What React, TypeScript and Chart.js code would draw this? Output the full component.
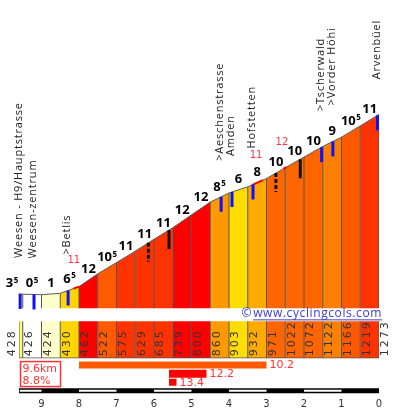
import { useEffect, useRef } from 'react';
import { Chart, registerables } from 'chart.js';

Chart.register(...registerables);

// ---- data read from the profile ----
const KM = [9.6, 9.5, 9.0, 8.5, 8.0, 7.5, 7.0, 6.5, 6.0, 5.5, 5.0, 4.5, 4.0, 3.5, 3.0, 2.5, 2.0, 1.5, 1.0, 0.5, 0];
const ELEVATION = [428, 426, 424, 430, 462, 522, 575, 629, 685, 739, 800, 860, 903, 932, 971, 1022, 1072, 1122, 1166, 1219, 1273];
const GRADE = [3.5, 0.5, 1, 6.5, 12, 10.5, 11, 11, 11, 12, 12, 8.5, 6, 8, 10, 10, 10, 9, 10.5, 11];

const PLACE_NAMES = ['Weesen - H9/Hauptstrasse', 'Weesen-zentrum', '>Betlis', '>Aeschenstrasse', 'Amden', 'Hofstetten', '>Tscherwald', '>Vorder Höhi', 'Arvenbüel'];
const PLACE_KM = [9.57, 9.2, 8.29, 4.21, 3.92, 3.36, 1.53, 1.23, 0.04];

const TUNNEL_KM = [6.15, 5.6, 2.75, 2.1];
const TUNNEL_DASHED = [true, false, true, false];

const STEEP_FROM = [8.15, 3.35, 2.55];
const STEEP_TO = [8.0, 3.1, 2.47];
const STEEP_MAX = [11, 11, 12];
const STEEP_LABEL_KM = [8.14, 3.28, 2.59];

const CLIMB_FROM = [8.0, 5.6, 5.6];
const CLIMB_TO = [3.0, 4.6, 5.4];
const CLIMB_AVG = [10.2, 12.2, 13.4];

const TOTAL_KM = 9.6;
const AVERAGE_GRADE = 8.8;

const SCALE_WHITE_FROM = [9.58, 8, 6, 4, 2];
const SCALE_WHITE_TO = [9, 7, 5, 3, 1];

const SITE = 'www.cyclingcols.com';

// ---- helpers ----
const FLOOR = 359;

function elevAt(km: number): number {
  for (let i = 0; i < KM.length - 1; i++) {
    const a = KM[i], b = KM[i + 1];
    if (km <= a && km >= b) {
      const t = (a - km) / (a - b);
      return ELEVATION[i] + t * (ELEVATION[i + 1] - ELEVATION[i]);
    }
  }
  return km > KM[0] ? ELEVATION[0] : ELEVATION[ELEVATION.length - 1];
}

function gradeColour(g: number): string {
  if (g < 0.8) return '#ffffff';
  if (g < 2) return '#ffffcc';
  if (g < 5) return '#ffff66';
  if (g < 6.3) return '#ffdd00';
  if (g < 7.5) return '#ffd500';
  if (g < 8.3) return '#ffaa00';
  if (g < 8.8) return '#ff9900';
  if (g < 9.5) return '#ff8000';
  if (g < 10.1) return '#ff6600';
  if (g < 10.8) return '#ff5a00';
  if (g < 11.5) return '#ff3300';
  return '#ff0000';
}

const GRADE_FONT = 'bold 13px "Noto Sans"';
const SUP_FONT = 'bold 8px "Noto Sans"';

function drawGrade(ctx: CanvasRenderingContext2D, g: number, cx: number, baseline: number) {
  const whole = String(Math.floor(g));
  const half = Math.abs(g - Math.floor(g)) > 0.01;
  ctx.font = GRADE_FONT;
  const w1 = ctx.measureText(whole).width;
  ctx.font = SUP_FONT;
  const w2 = half ? ctx.measureText('5').width + 0.5 : 0;
  const left = cx - (w1 + w2) / 2;
  ctx.textAlign = 'left';
  ctx.textBaseline = 'alphabetic';
  ctx.fillStyle = '#000';
  ctx.font = GRADE_FONT;
  ctx.fillText(whole, left, baseline);
  if (half) {
    ctx.font = SUP_FONT;
    ctx.fillText('5', left + w1 + 0.5, baseline - 4.5);
  }
}

function vText(ctx: CanvasRenderingContext2D, text: string, x: number, bottom: number) {
  ctx.save();
  ctx.translate(x, bottom);
  ctx.rotate(-Math.PI / 2);
  ctx.textAlign = 'left';
  ctx.textBaseline = 'middle';
  ctx.fillText(text, 0, 0);
  ctx.restore();
}

const annotations = {
  id: 'climbAnnotations',
  afterDatasetsDraw(chart: any) {
    const ctx: CanvasRenderingContext2D = chart.ctx;
    const xs = chart.scales.x;
    const ys = chart.scales.y;
    const yr = chart.scales.yRow;
    const yb = chart.scales.yBars;
    const X = (k: number) => xs.getPixelForValue(k);
    const Y = (e: number) => ys.getPixelForValue(e);
    ctx.save();

    // tunnels / galleries (black)
    TUNNEL_KM.forEach((k, i) => {
      const px = X(k), py = Y(elevAt(k));
      ctx.strokeStyle = '#111';
      ctx.lineWidth = 3;
      ctx.setLineDash(TUNNEL_DASHED[i] ? [4, 2] : []);
      ctx.beginPath();
      ctx.moveTo(px, py);
      ctx.lineTo(px, py + 19);
      ctx.stroke();
    });
    ctx.setLineDash([]);

    // place markers (blue)
    PLACE_KM.forEach((k) => {
      const px = X(k), py = Y(elevAt(k));
      ctx.strokeStyle = '#1010ff';
      ctx.lineWidth = 3;
      ctx.beginPath();
      ctx.moveTo(px, py);
      ctx.lineTo(px, py + 15);
      ctx.stroke();
    });

    // grade labels
    GRADE.forEach((g, i) => {
      const short = KM[i] - KM[i + 1] < 0.25;
      const cx = short ? X(KM[i]) - 7 : (X(KM[i]) + X(KM[i + 1])) / 2;
      const base = Y((ELEVATION[i] + ELEVATION[i + 1]) / 2) - 7;
      drawGrade(ctx, g, cx, base);
    });

    // steepest 100 m labels
    ctx.font = '10px "DejaVu Sans"';
    ctx.fillStyle = '#ff3344';
    ctx.textAlign = 'center';
    ctx.textBaseline = 'alphabetic';
    STEEP_MAX.forEach((m, i) => {
      const k = STEEP_LABEL_KM[i];
      ctx.fillText(String(m), X(k), Y(elevAt(k)) - 25);
    });

    // place names
    ctx.font = '11px "Open Sans"';
    (ctx as any).letterSpacing = '0.8px';
    ctx.fillStyle = '#222';
    PLACE_NAMES.forEach((name, i) => {
      const k = PLACE_KM[i];
      vText(ctx, name, X(k) - 1, Y(elevAt(k)) - 36);
    });

    // elevation row labels
    ctx.font = '11px "DejaVu Sans"';
    (ctx as any).letterSpacing = '2px';
    ctx.fillStyle = '#333';
    const rowBottom = yr.getPixelForValue(0) - 2;
    ELEVATION.forEach((e, i) => {
      const px = i === 0 ? X(KM[i]) - 7 : X(KM[i]) + 6.5;
      vText(ctx, String(e), px, rowBottom);
    });

    // site credit
    ctx.font = '12px "Open Sans"';
    (ctx as any).letterSpacing = '0.6px';
    ctx.fillStyle = '#3a3ad4';
    ctx.strokeStyle = '#3a3ad4';
    ctx.textAlign = 'right';
    ctx.textBaseline = 'alphabetic';
    const creditY = yr.getPixelForValue(1) - 4;
    const right = chart.chartArea.right + 3;
    ctx.fillText(SITE, right, creditY);
    const sw = ctx.measureText(SITE).width;
    ctx.fillText('\u00A9', right - sw - 1, creditY);
    ctx.lineWidth = 1;
    ctx.beginPath();
    ctx.moveTo(right - sw, creditY + 2.5);
    ctx.lineTo(right, creditY + 2.5);
    ctx.stroke();
    (ctx as any).letterSpacing = '0px';

    // climb section labels
    ctx.font = '11px "DejaVu Sans"';
    ctx.fillStyle = '#ff3333';
    ctx.textAlign = 'left';
    ctx.textBaseline = 'middle';
    CLIMB_AVG.forEach((a, i) => {
      ctx.fillText(a.toFixed(1), X(CLIMB_TO[i]) + 3, yb.getPixelForValue(i + 1) + 0.5);
    });

    // summary box
    const bx = X(TOTAL_KM) + 1.5;
    const by = yb.getPixelForValue(1) - 3.5;
    ctx.strokeStyle = '#ff3333';
    ctx.lineWidth = 1.5;
    ctx.strokeRect(bx, by, 40, 25);
    ctx.textBaseline = 'alphabetic';
    ctx.fillText(TOTAL_KM.toFixed(1) + 'km', bx + 2, by + 10.5);
    ctx.fillText(AVERAGE_GRADE.toFixed(1) + '%', bx + 2, by + 22.5);

    ctx.restore();
  },
};

function buildDatasets() {
  const ds: any[] = [];
  const base = { type: 'line', pointRadius: 0, spanGaps: false };
  // profile columns
  GRADE.forEach((g, i) => {
    ds.push({
      ...base, yAxisID: 'y', order: 30,
      data: [{ x: KM[i], y: ELEVATION[i] }, { x: KM[i + 1], y: ELEVATION[i + 1] }],
      backgroundColor: gradeColour(g), borderColor: '#5c5c5c', borderWidth: 1, fill: 'start',
    });
  });
  const dividers: any[] = [];
  KM.forEach((k, i) => dividers.push({ x: k, y: FLOOR }, { x: k, y: ELEVATION[i] }, { x: k, y: null }));
  ds.push({ ...base, yAxisID: 'y', order: 20, data: dividers, borderColor: '#555', borderWidth: 1, fill: false });
  // steepest stretches on the profile
  STEEP_FROM.forEach((f, i) => {
    ds.push({
      ...base, yAxisID: 'y', order: 10,
      data: [{ x: f, y: elevAt(f) }, { x: STEEP_TO[i], y: elevAt(STEEP_TO[i]) }],
      borderColor: '#ff0000', borderWidth: 2, fill: false,
    });
  });
  // elevation row
  GRADE.forEach((g, i) => {
    ds.push({
      ...base, yAxisID: 'yRow', order: 30,
      data: [{ x: KM[i], y: 1 }, { x: KM[i + 1], y: 1 }],
      backgroundColor: gradeColour(g), borderColor: 'rgba(0,0,0,0)', borderWidth: 1, fill: 'start',
    });
  });
  const rowDividers: any[] = [];
  KM.forEach((k) => rowDividers.push({ x: k, y: 0 }, { x: k, y: 1 }, { x: k, y: null }));
  ds.push({ ...base, yAxisID: 'yRow', order: 20, data: rowDividers, borderColor: '#555', borderWidth: 1, fill: false });
  ds.push({ ...base, yAxisID: 'yRow', order: 20, data: [{ x: KM[0], y: 0 }, { x: KM[KM.length - 1], y: 0 }], borderColor: '#555', borderWidth: 1.5, fill: false });
  // climb sections
  CLIMB_FROM.forEach((f, i) => {
    ds.push({
      ...base, yAxisID: 'yBars', order: 10,
      data: [{ x: f, y: i + 1 }, { x: CLIMB_TO[i], y: i + 1 }],
      borderColor: gradeColour(CLIMB_AVG[i]), borderWidth: i === 1 ? 8 : 7, borderCapStyle: 'butt', fill: false,
    });
  });
  // distance scale bar
  ds.push({
    ...base, yAxisID: 'yBars', order: 10,
    data: [{ x: KM[0], y: 4 }, { x: 0, y: 4 }],
    borderColor: '#000', borderWidth: 5, borderCapStyle: 'butt', fill: false,
  });
  SCALE_WHITE_FROM.forEach((f, i) => {
    ds.push({
      ...base, yAxisID: 'yBars', order: 5,
      data: [{ x: f, y: 4 }, { x: SCALE_WHITE_TO[i], y: 4 }],
      borderColor: '#fff', borderWidth: 2, borderCapStyle: 'butt', fill: false,
    });
  });
  return ds;
}

export default function App() {
  const ref = useRef<HTMLCanvasElement>(null);
  useEffect(() => {
    const chart = new Chart(ref.current as HTMLCanvasElement, {
      type: 'line',
      data: { datasets: buildDatasets() },
      options: {
        animation: false,
        responsive: false,
        maintainAspectRatio: false,
        devicePixelRatio: 1,
        events: [],
        layout: { padding: { left: 19, right: 20, top: 0, bottom: 3 } },
        plugins: { legend: { display: false }, tooltip: { enabled: false } },
        scales: {
          x: {
            type: 'linear', min: 0, max: TOTAL_KM, reverse: true, position: 'bottom',
            grid: { display: false, drawTicks: false }, border: { display: false },
            ticks: { stepSize: 1, includeBounds: false, padding: 2, color: '#333', font: { size: 10, family: 'DejaVu Sans' } },
          },
          y: { type: 'linear', display: false, position: 'left', stack: 'climb', stackWeight: 310, weight: 3, min: FLOOR, max: 1812 },
          yRow: { type: 'linear', display: false, position: 'left', stack: 'climb', stackWeight: 50, weight: 2, min: 0, max: 1.351 },
          yBars: { type: 'linear', display: false, position: 'left', stack: 'climb', stackWeight: 38, weight: 1, min: 0.2, max: 4.6, reverse: true },
        },
      } as any,
      plugins: [annotations],
    } as any);
    return () => chart.destroy();
  }, []);
  return (
    <div style={{ position: 'absolute', left: 0, top: 0, width: 399, height: 415, background: '#fff' }}>
      <canvas ref={ref} width={399} height={415} style={{ display: 'block' }} />
    </div>
  );
}
